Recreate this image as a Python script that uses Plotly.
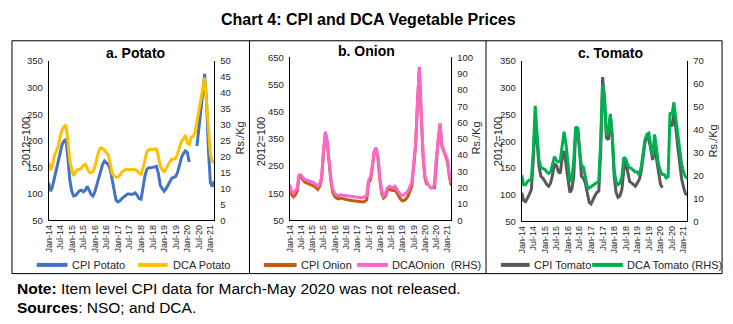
import plotly.graph_objects as go
import pandas as pd

W, H = 733, 324
months = [d.strftime("%b-%y") for d in pd.date_range("2014-01-01", "2021-03-01", freq="MS")]
tick_labels = [m for m in months if m.startswith("Jan") or m.startswith("Jul")]

N = None
cpi_potato = [121,105,114,130,148,163,181,193,200,202,168,126,
              105,96,97,101,106,107,104,107,114,107,99,96,
              104,117,131,146,155,162,159,155,146,126,103,88,
              85,87,91,94,97,100,100,99,100,102,97,91,
              90,110,134,146,149,149,150,152,152,138,116,110,
              105,110,117,124,130,131,133,141,155,169,176,181,
              178,160,N,N,N,190,220,255,290,326,272,181,121,114,124]
dca_potato = [18.3,15.8,17.3,20.3,21.8,23.3,26.4,28.5,29.4,30,24.9,18.8,
              15.8,14,15.2,16,16,16.4,17.3,17.6,16.4,15.2,15,15.2,
              16.8,19.3,21.8,22.8,22.6,22,21.3,20.5,17.7,14.7,13.9,13.5,
              13.7,14.2,15.2,15.7,16,16,16,16.2,16,15.9,15.5,14.8,
              14.5,16.5,19.5,21.5,22.2,22.3,22.3,22.5,22.4,20,17,15.8,
              15.3,16.3,17.5,18.5,19.3,19.2,19.6,21,23,25,25.5,26.8,
              24.5,23.5,26.2,26.3,27.5,31,34.5,38.5,42,44.8,37,27,20.5,18.5,18.2]

cpi_onion = [170,145,137,143,158,210,210,198,191,188,185,181,
             180,176,170,164,176,202,300,372,335,252,190,152,
             138,132,129,132,130,130,127,126,124,123,122,121,
             120,119,118,118,120,126,190,200,245,300,316,280,
             198,148,133,140,160,166,162,160,164,152,138,128,
             122,124,130,140,158,178,250,325,480,613,435,282,
             205,180,N,N,N,165,265,345,405,322,305,285,265,210,178]
dca_onion = [21.9,17.9,16.5,17.9,19.9,27.8,27.8,26.2,25.1,24.7,24.3,23.7,
             23.7,23.1,21.9,20.9,22.7,26.6,42.6,54.4,48.5,34.9,24.7,18.9,
             16.5,15.5,15.1,15.7,15.5,15.7,15.1,15.1,14.7,14.5,14.3,14.1,
             14.1,14.1,13.9,14.1,14.7,15.1,24.7,26.6,33.7,42.6,44.5,38.6,
             26,17.9,15.1,16.5,19.9,20.9,20.5,19.9,20.9,18.9,16.9,15.7,
             15.1,16.1,16.9,17.9,20.9,23.7,34.9,46.7,72,93.9,65,40,
             27,23.5,21.5,19.8,20,22,38,50,59.5,46,43.5,40,37,28,23]

cpi_tomato = [104,89,87,93,101,110,164,242,188,152,134,131,
              125,119,116,122,137,158,155,143,140,170,182,155,
              122,104,110,134,218,227,188,134,131,122,104,86,
              83,92,98,104,107,182,320,272,206,203,248,206,
              134,104,95,98,110,146,164,143,125,122,119,116,
              122,128,143,173,197,207,205,185,165,190,165,140,
              120,113,N,N,N,232,228,250,225,190,158,130,114,102,100]
dca_tomato = [20.2,16,16,17.4,18.1,18.4,30.8,50.5,37.8,26.6,23.5,23.1,
              22.7,21.6,21,21.6,25.2,28.3,26.6,26,26.6,32.2,39.2,33.6,
              23.7,17.4,18.1,26.6,41.3,40.6,30.8,24.5,23.7,19.5,15.3,14.6,
              15.3,16,16.7,17,17.4,35,59.6,54.7,37.8,38.5,46.9,37.8,
              22.3,17.4,16,16.7,19.5,28,27.3,24.5,23.5,23.1,22.3,21.6,
              21.6,20.2,23.7,30.8,35.7,38,38.5,33,28.5,38,30,25,
              22,20.5,20.5,19,19.5,47.5,46.5,52,45,38,31,25,21.5,19.5,18.8]

FONT = "Liberation Sans, Arial, sans-serif"

def px(x): return x / W
def py(y): return 1 - y / H

panels = [
    dict(name="a. Potato", cpi=cpi_potato, dca=dca_potato, cpi_name="CPI Potato", dca_name="DCA Potato",
         c1="#4472C4", c2="#FFC000", x0=44, x1=211, ytop=57, ybot=222,
         lrange=[50,350], ldt=50, rrange=[0,50], rdt=5,
         title_xy=(132, 49), lt_xy=(21, 140), rt_xy=(237, 137),
         leg=[(32,63,66),(134,164,167)]),
    dict(name="b. Onion", cpi=cpi_onion, dca=dca_onion, cpi_name="CPI Onion", dca_name="DCAOnion  (RHS)",
         c1="#C55A11", c2="#FF66CC", x0=287, x1=450, ytop=53, ybot=222,
         lrange=[50,650], ldt=100, rrange=[0,100], rdt=10,
         title_xy=(364, 47), lt_xy=(258, 140), rt_xy=(475, 137),
         leg=[(261,294,296),(355,386,388)]),
    dict(name="c. Tomato", cpi=cpi_tomato, dca=dca_tomato, cpi_name="CPI Tomato", dca_name="DCA Tomato (RHS)",
         c1="#595959", c2="#00B050", x0=521, x1=688, ytop=57, ybot=223,
         lrange=[50,350], ldt=50, rrange=[0,70], rdt=10,
         title_xy=(610, 49), lt_xy=(497, 140), rt_xy=(714, 140),
         leg=[(500,529,531),(592,623,625)]),
]

fig = go.Figure()
layout = dict(width=W, height=H, margin=dict(l=0, r=0, t=0, b=0),
              plot_bgcolor="white", paper_bgcolor="white", showlegend=False,
              font=dict(family=FONT, color="#262626"))
annotations = []
shapes = []

def ann(text, x, y, size, color="#262626", xanchor="center", angle=0):
    return dict(text=text, x=px(x), y=py(y), xref="paper", yref="paper", showarrow=False,
                xanchor=xanchor, yanchor="middle", textangle=angle,
                font=dict(size=size, family=FONT, color=color))

for i, p in enumerate(panels):
    xa = "x" if i == 0 else f"x{i+1}"
    yl = f"y{2*i+1}" if i > 0 else "y"
    yr = f"y{2*i+2}"
    xkey = "xaxis" if i == 0 else f"xaxis{i+1}"
    ylkey = "yaxis" if i == 0 else f"yaxis{2*i+1}"
    yrkey = f"yaxis{2*i+2}"
    fig.add_trace(go.Scatter(x=months, y=p["cpi"], mode="lines", name=p["cpi_name"],
                             line=dict(color=p["c1"], width=3), connectgaps=False,
                             xaxis=xa, yaxis=yl))
    fig.add_trace(go.Scatter(x=months, y=p["dca"], mode="lines", name=p["dca_name"],
                             line=dict(color=p["c2"], width=3), connectgaps=False,
                             xaxis=xa, yaxis=yr))
    dom_x = [px(p["x0"]), px(p["x1"])]
    dom_y = [py(p["ybot"]), py(p["ytop"])]
    layout[xkey] = dict(domain=dom_x, anchor=yl, type="category", range=[0, len(months)-1],
                        tickmode="array", tickvals=tick_labels, ticktext=tick_labels,
                        tickangle=-90, tickfont=dict(size=9, family=FONT, color="#262626"),
                        showline=True, linecolor="black", linewidth=1, showgrid=False,
                        ticks="", zeroline=False)
    layout[ylkey] = dict(domain=dom_y, anchor=xa, range=p["lrange"], dtick=p["ldt"], tick0=p["lrange"][0],
                         showline=True, linecolor="black", linewidth=1, showgrid=False,
                         ticks="", tickfont=dict(size=9.5, family=FONT, color="#262626"),
                         zeroline=False, ticklabelstandoff=3)
    layout[yrkey] = dict(domain=dom_y, anchor=xa, overlaying=yl, side="right",
                         range=p["rrange"], dtick=p["rdt"], tick0=0,
                         showline=True, linecolor="black", linewidth=1, showgrid=False,
                         ticks="", tickfont=dict(size=9.5, family=FONT, color="#262626"),
                         zeroline=False, ticklabelstandoff=3)
    tx, ty = p["title_xy"]
    annotations.append(ann(f"<b>{p['name']}</b>", tx, ty, 14, color="black"))
    lx, ly = p["lt_xy"]
    annotations.append(ann("2012=100", lx, ly, 11, angle=-90))
    rx, ry = p["rt_xy"]
    annotations.append(ann("Rs./Kg", rx, ry, 11, angle=-90))
    for (a, b, t), col, nm in zip(p["leg"], [p["c1"], p["c2"]], [p["cpi_name"], p["dca_name"]]):
        shapes.append(dict(type="line", xref="paper", yref="paper", x0=px(a), x1=px(b),
                           y0=py(268), y1=py(268), line=dict(color=col, width=4)))
        annotations.append(ann(nm, t, 268, 11, xanchor="left"))

# panel borders
shapes.append(dict(type="rect", xref="paper", yref="paper", x0=px(7), x1=px(723), y0=py(277), y1=py(36),
                   line=dict(color="black", width=1)))
for sx in [246.5, 485]:
    shapes.append(dict(type="line", xref="paper", yref="paper", x0=px(sx), x1=px(sx), y0=py(277), y1=py(36),
                       line=dict(color="black", width=1)))

annotations.append(ann("<b>Chart 4: CPI and DCA Vegetable Prices</b>", 366, 14, 16, color="black"))
annotations.append(ann("<b>Note:</b> Item level CPI data for March-May 2020 was not released.",
                       10, 292, 15.5, color="black", xanchor="left"))
annotations.append(ann("<b>Sources</b>: NSO; and DCA.", 10, 312, 15.5, color="black", xanchor="left"))

layout["annotations"] = annotations
layout["shapes"] = shapes
fig.update_layout(**layout)
fig.write_html("out.html")
